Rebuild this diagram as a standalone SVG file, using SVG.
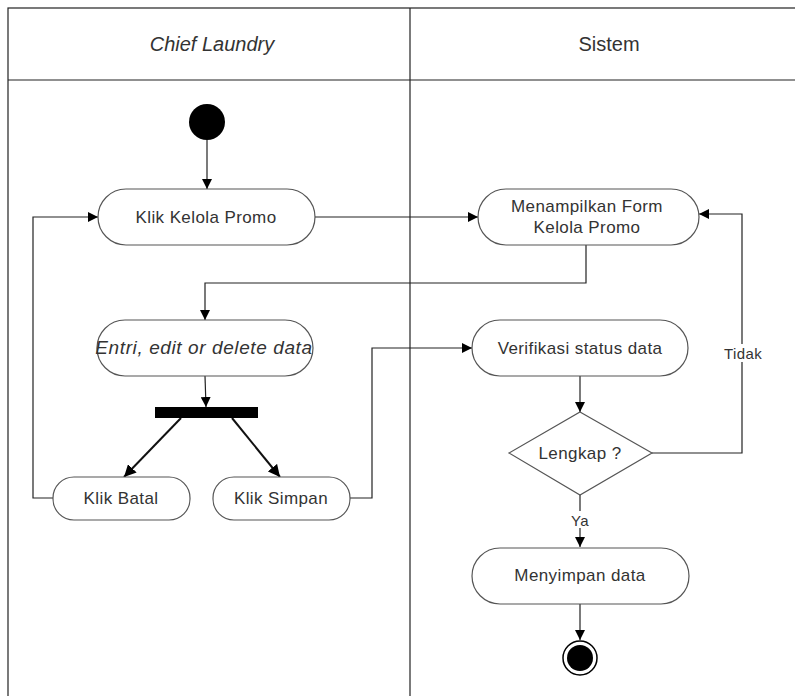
<svg xmlns="http://www.w3.org/2000/svg" width="795" height="696" viewBox="0 0 795 696">
  <style>
    .lane { fill: none; stroke: #222; stroke-width: 1.2; }
    .act { fill: #fff; stroke: #555; stroke-width: 1.2; }
    .hdr { font-family: "Liberation Sans", Arial, sans-serif; font-size: 20px; fill: #333; text-anchor: middle; }
    .txt { font-family: "Liberation Sans", Arial, sans-serif; font-size: 17px; letter-spacing: 0.4px; fill: #333; text-anchor: middle; }
    .lbl { font-family: "Liberation Sans", Arial, sans-serif; font-size: 15px; letter-spacing: 0.4px; fill: #333; text-anchor: middle; }
    .edge { fill: none; stroke: #222; stroke-width: 1.2; }
    .fork { fill: none; stroke: #111; stroke-width: 2; }
  </style>
  <defs>
    <marker id="arrow" viewBox="0 0 10 10" refX="10" refY="5" markerWidth="10" markerHeight="10" markerUnits="userSpaceOnUse" orient="auto">
      <path d="M0,0 L10,5 L0,10 z" fill="#000"/>
    </marker>
    <marker id="arrowBig" viewBox="0 0 10 10" refX="10" refY="5" markerWidth="12" markerHeight="12" markerUnits="userSpaceOnUse" orient="auto">
      <path d="M0,0 L10,5 L0,10 z" fill="#000"/>
    </marker>
  </defs>

  <rect width="795" height="696" fill="#fff"/>

  <!-- swimlanes -->
  <g id="lanes">
    <rect class="lane" x="8" y="8" width="790" height="700"/>
    <line class="lane" x1="8" y1="80" x2="798" y2="80"/>
    <line class="lane" x1="410" y1="8" x2="410" y2="700"/>
    <text class="hdr" x="212" y="51" font-style="italic">Chief Laundry</text>
    <text class="hdr" x="609" y="51">Sistem</text>
  </g>

  <!-- connectors -->
  <g id="connectors">
    <line class="edge" x1="207" y1="140" x2="207" y2="189" marker-end="url(#arrow)"/>
    <line class="edge" x1="315" y1="217" x2="478" y2="217" marker-end="url(#arrow)"/>
    <polyline class="edge" points="586,245 586,283 205,283 205,320" marker-end="url(#arrow)"/>
    <line class="edge" x1="205" y1="376" x2="206" y2="407" marker-end="url(#arrow)"/>
    <line class="fork" x1="181" y1="418" x2="124" y2="477" marker-end="url(#arrowBig)"/>
    <line class="fork" x1="232" y1="418" x2="280" y2="477" marker-end="url(#arrowBig)"/>
    <polyline class="edge" points="53,498 33,498 33,217 98,217" marker-end="url(#arrow)"/>
    <polyline class="edge" points="350,498 372,498 372,348 472,348" marker-end="url(#arrow)"/>
    <line class="edge" x1="580" y1="376" x2="580" y2="412" marker-end="url(#arrow)"/>
    <polyline class="edge" points="652,453 742,453 742,214 699,214" marker-end="url(#arrow)"/>
    <line class="edge" x1="580" y1="495" x2="580" y2="547" marker-end="url(#arrow)"/>
    <line class="edge" x1="580" y1="604" x2="580" y2="640" marker-end="url(#arrow)"/>
    <rect x="722" y="344" width="42" height="18" fill="#fff"/>
    <text class="lbl" x="743" y="359">Tidak</text>
    <rect x="569" y="511" width="22" height="17" fill="#fff"/>
    <text class="lbl" x="580" y="526">Ya</text>
  </g>

  <g id="start">
    <circle cx="207" cy="122" r="18" fill="#000"/>
  </g>

  <g id="klik-kelola-promo">
    <rect class="act" x="98" y="189" width="217" height="56" rx="28"/>
    <text class="txt" x="206" y="223">Klik Kelola Promo</text>
  </g>

  <g id="menampilkan-form">
    <rect class="act" x="478" y="189" width="221" height="56" rx="28"/>
    <text class="txt" x="587" y="212">Menampilkan Form</text>
    <text class="txt" x="587" y="233">Kelola Promo</text>
  </g>

  <g id="entri-data">
    <rect class="act" x="97" y="320" width="216" height="56" rx="28"/>
    <text class="txt" x="204" y="354" font-style="italic" style="font-size:19px;letter-spacing:0.6px">Entri, edit or delete data</text>
  </g>

  <g id="fork-bar">
    <rect x="155" y="407" width="103" height="11" fill="#000"/>
  </g>

  <g id="klik-batal">
    <rect class="act" x="53" y="477" width="137" height="43" rx="21"/>
    <text class="txt" x="121" y="504">Klik Batal</text>
  </g>

  <g id="klik-simpan">
    <rect class="act" x="213" y="477" width="137" height="43" rx="21"/>
    <text class="txt" x="281" y="504">Klik Simpan</text>
  </g>

  <g id="verifikasi">
    <rect class="act" x="472" y="320" width="216" height="56" rx="28"/>
    <text class="txt" x="580" y="354">Verifikasi status data</text>
  </g>

  <g id="lengkap">
    <polygon class="act" points="580,412 652,453 580,495 509,453"/>
    <text class="txt" x="580" y="459">Lengkap ?</text>
  </g>

  <g id="menyimpan">
    <rect class="act" x="472" y="548" width="217" height="56" rx="28"/>
    <text class="txt" x="580" y="581">Menyimpan data</text>
  </g>

  <g id="end">
    <circle cx="580" cy="658" r="17" fill="#fff" stroke="#000" stroke-width="1.5"/>
    <circle cx="580" cy="658" r="13" fill="#000"/>
  </g>
</svg>
